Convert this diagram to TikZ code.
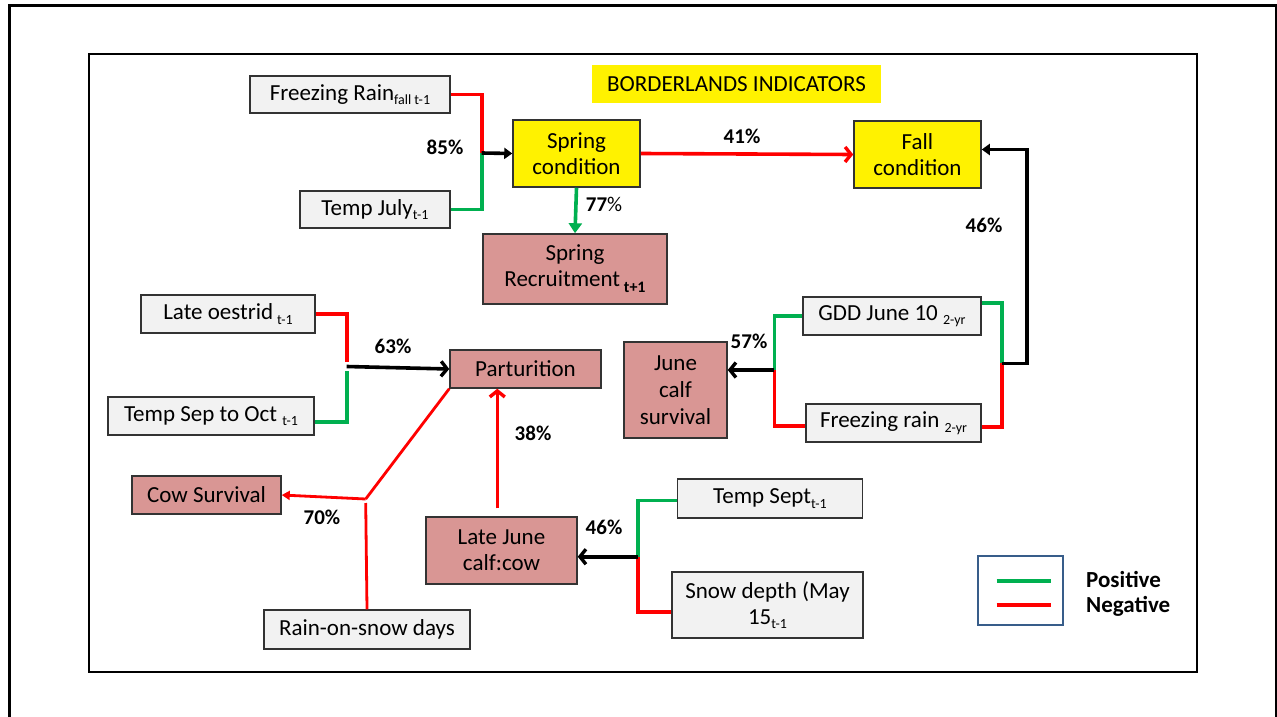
\documentclass[tikz,border=0pt]{standalone}
\usepackage{fontspec}
\setmainfont{Carlito}
\usetikzlibrary{arrows.meta}
\definecolor{grayfill}{HTML}{F2F2F2}
\definecolor{pinkfill}{HTML}{D99694}
\definecolor{posgreen}{HTML}{00B050}
\definecolor{negred}{HTML}{FF0000}
\definecolor{legblue}{HTML}{385D8A}
\definecolor{boxline}{HTML}{333333}
\newcommand\mysub[1]{\raisebox{-4.5pt}{\fontsize{14}{14}\selectfont #1}}
\newcommand\mysubb[1]{\raisebox{-6pt}{\fontsize{16}{16}\selectfont\bfseries #1}}
\begin{document}
\begin{tikzpicture}[x=1pt,y=-1pt,
  every node/.style={font=\fontsize{23}{26}\selectfont, inner sep=0pt, align=center},
  gbox/.style={draw=boxline, line width=1.5pt, fill=grayfill},
  pbox/.style={draw=boxline, line width=1.5pt, fill=pinkfill},
  ybox/.style={draw=boxline, line width=1.5pt, fill=yellow},
  pct/.style={font=\fontsize{21}{21}\selectfont\bfseries},
  posline/.style={draw=posgreen, line width=3.6pt},
  negline/.style={draw=negred, line width=3.6pt},
  thinneg/.style={draw=negred, line width=2.8pt},
  blk/.style={draw=black, line width=3.6pt},
  barb/.style={-{Straight Barb[length=6pt,width=15pt,line width=3.4pt]}},
  smalltriblk/.style={-{Triangle[length=8pt,width=11pt]}},
  tri/.style={-{Triangle[length=10pt,width=13pt]}},
  smalltri/.style={-{Triangle[length=8pt,width=9pt]}}
]
\useasboundingbox (0,0) rectangle (1277,717);
\fill[white] (0,0) rectangle (1277,717);
% frames
\draw[line width=3pt] (9,720) -- (9,6) -- (1276,6) -- (1276,720);
\draw[line width=2.5pt] (89,54) rectangle (1197,672);

% title
\node[fill=yellow, minimum width=289, minimum height=38] (title) at (736.5,84) {BORDERLANDS INDICATORS};

% boxes
\node[gbox, minimum width=200, minimum height=37] (frz) at (350,94.5) {Freezing Rain\mysub{fall t-1}};
\node[gbox, minimum width=150, minimum height=37] (tjul) at (375,209.5) {Temp July\mysub{t-1}};
\node[ybox, minimum width=127, minimum height=67] (spc) at (576.5,153.5) {Spring\\condition};
\node[ybox, minimum width=127, minimum height=67] (fall) at (917.5,154.5) {Fall\\condition};
\node[pbox, minimum width=184, minimum height=70] (spr) at (575,269) {Spring\\Recruitment\,\mysubb{t+1}};
\node[gbox, minimum width=178, minimum height=38] (gdd) at (892,316) {GDD June 10 \mysub{2-yr}};
\node[gbox, minimum width=175, minimum height=38] (frz2) at (893.5,423) {Freezing rain \mysub{2-yr}};
\node[pbox, minimum width=103, minimum height=96, font=\fontsize{23}{27}\selectfont] (jcs) at (675.5,390) {June\\calf\\survival};
\node[gbox, minimum width=174, minimum height=38] (oes) at (228,314) {Late oestrid\,\mysub{t-1}};
\node[gbox, minimum width=206, minimum height=38] (tsoc) at (211,416) {Temp Sep to Oct \mysub{t-1}};
\node[pbox, minimum width=151, minimum height=38] (part) at (525.5,369) {Parturition};
\node[pbox, minimum width=149, minimum height=38] (cow) at (206.5,495) {Cow Survival};
\node[pbox, minimum width=151, minimum height=67] (ljun) at (501.5,550.5) {Late June\\calf:cow};
\node[gbox, minimum width=206, minimum height=39] (ros) at (367,629.5) {Rain-on-snow days};
\node[gbox, minimum width=185, minimum height=39] (tsep) at (770,498.5) {Temp Sept\mysub{t-1}};
\node[gbox, minimum width=191, minimum height=66] (snow) at (767.5,605) {Snow depth (May\\15\mysub{t-1}};

% percentages
\node[pct] (p85) at (445,147) {85\%};
\node[pct] (p77) at (604,204) {77{\mdseries\%}};
\node[pct] (p41) at (742,136) {41\%};
\node[pct] (p46a) at (984,225) {46\%};
\node[pct] (p57) at (749,341) {57\%};
\node[pct] (p63) at (393,346) {63\%};
\node[pct] (p38) at (533,433) {38\%};
\node[pct] (p70) at (322,517) {70\%};
\node[pct] (p46b) at (604,527) {46\%};

% junctions
\coordinate (j1) at (481.7,153);
\coordinate (j3) at (1001.7,363.3);
\coordinate (k3) at (1026.7,363.3);
\coordinate (j4) at (774.3,370);
\coordinate (j5) at (638,556.7);
\coordinate (j6) at (346.7,366.5);
\coordinate (j7) at (365.7,499);
\coordinate (c1) at (497.3,508.3);

% spring condition inputs
\draw[negline] (frz.east) -| (j1);
\draw[posline] (tjul.east) -| (j1);
\draw[blk, smalltriblk] (j1) -- (spc.west);
\draw[posline, tri] (spc.south) -- (spr.north);
\draw[negline, barb] (spc.east) -- (fall.west);

% fall condition inputs
\draw[posline] ([yshift=13pt]gdd.east) -| (j3);
\draw[negline] ([yshift=-4pt]frz2.east) -| (j3);
\draw[blk, smalltriblk] (j3) -- (k3) |- ([yshift=5pt]fall.east);

% june calf survival inputs
\draw[posline] (gdd.west) -| (j4);
\draw[negline] ([yshift=-3pt]frz2.west) -| (j4);
\draw[blk, barb] (j4) -- (j4 -| jcs.east);

% parturition inputs
\draw[negline] (oes.east) -| ([yshift=5pt]j6);
\draw[posline] ([yshift=-6pt]tsoc.east) -| ([yshift=-4pt]j6);
\draw[blk, barb] (j6) -- (part.west);
\draw[negline, barb] (c1) -- (c1 |- part.south);

% cow survival
\draw[thinneg] (part.south west) -- (j7);
\draw[thinneg, smalltri] (j7) -- (cow.east);
\draw[thinneg] (ros.north) -- ([yshift=-4pt]j7);

% late june inputs
\draw[posline] ([yshift=-2pt]tsep.west) -| (j5);
\draw[negline] ([yshift=-7pt]snow.west) -| (j5);
\draw[blk, barb] (j5) -- (j5 -| ljun.east);

% legend
\node[draw=legblue, line width=2pt, minimum width=85, minimum height=69] (leg) at (1020.5,590.5) {};
\coordinate (lg1) at (996.5,581);
\coordinate (lg2) at (1051,581);
\coordinate (lr1) at (996.5,605);
\coordinate (lr2) at (1051,605);
\draw[posline] (lg1) -- (lg2);
\draw[negline] (lr1) -- (lr2);
\node[anchor=west, align=left, font=\fontsize{23}{25}\selectfont\bfseries] (legtxt) at (1086,594) {Positive\\Negative};
\end{tikzpicture}
\end{document}
